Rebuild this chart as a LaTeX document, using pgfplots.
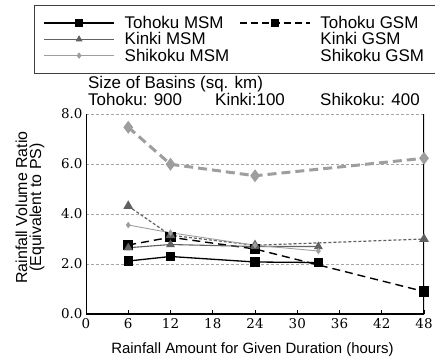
\documentclass[border=0pt]{standalone}
\usepackage{pgfplots}
\pgfplotsset{compat=1.18}
\usepackage{fontspec}
\setmainfont{Liberation Sans}
\newfontfamily\tickfont{DejaVu Serif}

\definecolor{kinki}{gray}{0.38}
\definecolor{shikoku}{gray}{0.62}

\begin{document}
\begin{tikzpicture}[x=1bp,y=1bp]
\path[use as bounding box] (0,0) rectangle (435,360);
\begin{axis}[
  at={(86bp,46bp)}, anchor=south west,
  scale only axis, width=338bp, height=200bp,
  xmin=0, xmax=48, ymin=0, ymax=8,
  xtick={0,6,...,48}, ytick={0,2,...,8},
  axis line style={draw=none},
  tick align=inside, xtick pos=bottom, ytick pos=left,
  major tick length=4bp,
  xtick style={black, line width=0.6bp},
  ytick style={draw=none},
  ymajorgrids,
  grid style={gray!70, line width=0.7bp, dash pattern=on 3bp off 2bp},
  /pgf/number format/assume math mode=true,
  ticklabel style={font=\tickfont\fontsize{13.5}{14}\selectfont},
  yticklabel style={/pgf/number format/.cd, fixed, fixed zerofill, precision=1},
  xticklabel style={yshift=-1bp},
  xlabel={Rainfall Amount for Given Duration (hours)},
  xlabel style={font=\fontsize{15}{15}\selectfont, at={(axis description cs:0.4926,-0.18)}, anchor=center},
  ylabel={Rainfall Volume Ratio\\(Equivalent to PS)},
  ylabel style={font=\fontsize{16}{14}\selectfont, align=center, at={(axis description cs:-0.1657,0.5325)}, anchor=center},
  legend columns=2,
  legend cell align=left,
  legend style={at={(axis description cs:-0.1538,1.545)}, anchor=north west,
    font=\fontsize{17}{17}\selectfont, draw=black!75, line width=0.8bp,
    inner xsep=9bp, inner ysep=11bp, row sep=3bp,
    nodes={inner xsep=2bp, inner ysep=0bp, text depth=1bp},
    /tikz/every even column/.append style={column sep=8bp}},
  legend image code/.code={%
    \draw[mark repeat=2, mark phase=2, #1] plot coordinates {(0bp,0bp) (35bp,0bp) (70bp,0bp)};
    \path (78bp,0bp);},
]
% MSM results end at 33 h, GSM results run to 48 h
\addplot[forget plot, black, line width=1.3bp, mark=square*, mark size=4bp, mark options={solid}]
  coordinates {(6,2.12) (12,2.30) (24,2.08) (33,2.06)};
\addplot[forget plot, black, line width=1.4bp, dash pattern=on 8bp off 5bp, mark=square*, mark size=4.5bp, mark options={solid}]
  coordinates {(6,2.76) (12,3.07) (24,2.60) (48,0.90)};
\addplot[forget plot, kinki, line width=1.1bp, mark=triangle*, mark size=4bp, mark options={solid}]
  coordinates {(6,2.65) (12,2.78) (24,2.70) (33,2.70)};
\addplot[forget plot, kinki, line width=1.2bp, dash pattern=on 3bp off 2bp, mark=triangle*, mark size=4.5bp, mark options={solid}]
  coordinates {(6,4.32) (12,3.15) (24,2.75) (48,3.00)};
\addplot[forget plot, shikoku, line width=0.9bp, mark=diamond*, mark size=2.5bp, mark options={solid}]
  coordinates {(6,3.56) (12,3.25) (24,2.75) (33,2.52)};
\addplot[forget plot, shikoku, line width=3bp, dash pattern=on 9bp off 5bp, mark=diamond*, mark size=4bp, mark options={solid}]
  coordinates {(6,7.47) (12,5.99) (24,5.53) (48,6.23)};

% axis frame: left, bottom and right sides
\draw[black, line width=1.2bp] (rel axis cs:0,1) -- (rel axis cs:0,0) -- (rel axis cs:1,0) -- (rel axis cs:1,1);

% legend, filled row by row
\addlegendimage{black, line width=1.3bp, mark=square*, mark size=3.5bp, mark options={solid}}
\addlegendentry{Tohoku MSM}
\addlegendimage{black, line width=1.3bp, dash pattern=on 7bp off 4bp, mark=square*, mark size=3.5bp, mark options={solid}}
\addlegendentry{Tohoku GSM}
\addlegendimage{kinki, line width=1.1bp, mark=triangle*, mark size=3bp, mark options={solid}}
\addlegendentry{Kinki MSM}
\addlegendimage{legend image code/.code={\path (0bp,0bp) (78bp,0bp);}}
\addlegendentry{Kinki GSM}
\addlegendimage{shikoku, line width=0.9bp, mark=diamond*, mark size=2.5bp, mark options={solid}}
\addlegendentry{Shikoku MSM}
\addlegendimage{legend image code/.code={\path (0bp,0bp) (78bp,0bp);}}
\addlegendentry{Shikoku GSM}
\end{axis}

\node[anchor=base west, inner sep=0pt, font=\fontsize{17}{17}\selectfont] at (88,271.5) {Size of Basins (sq. km)};
\node[anchor=base west, inner sep=0pt, font=\fontsize{17}{17}\selectfont] at (88,255) {Tohoku: 900};
\node[anchor=base west, inner sep=0pt, font=\fontsize{17}{17}\selectfont] at (215,255) {Kinki:100};
\node[anchor=base west, inner sep=0pt, font=\fontsize{17}{17}\selectfont] at (320,255) {Shikoku: 400};
\end{tikzpicture}
\end{document}
